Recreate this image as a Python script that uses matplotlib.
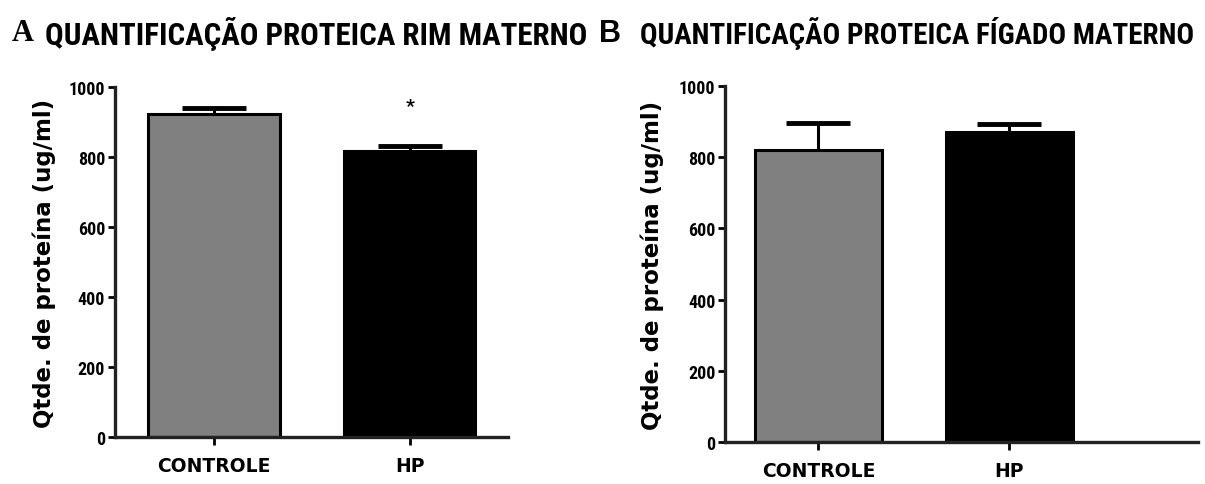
import matplotlib
matplotlib.use("Agg")
import matplotlib.pyplot as plt
import numpy as np

# data
groups = ["CONTROLE", "HP"]
rim_mean = [922, 816]
rim_sem = [18, 16]
figado_mean = [820, 871]
figado_sem = [76, 22]
yticks = [0, 200, 400, 600, 800, 1000]
colors = ["#808080", "#000000"]

narrow = ['Roboto Condensed', 'Arimo Narrow', 'Fira Sans Condensed', 'Liberation Sans', 'DejaVu Sans']
wide = ['DejaVu Sans']

plt.rcParams['font.family'] = narrow
plt.rcParams['font.weight'] = 'bold'

fig = plt.figure(figsize=(12.05, 4.85), dpi=100)
axA = fig.add_axes([0.0954, 0.097, 0.326, 0.7216])
axB = fig.add_axes([0.6017, 0.0866, 0.3925, 0.734])


def draw_panel(ax, means, sems, width, xlim, lab_x):
    x = np.arange(len(groups))
    ax.bar(x, means, width=width, color=colors, edgecolor="black", linewidth=2.2,
           zorder=2)
    # upward-only error bars, drawn behind the bars
    eb = ax.errorbar(x, means, yerr=[np.zeros(len(sems)), sems], fmt="none",
                     ecolor="black", elinewidth=2.2, capsize=23, capthick=3.5, zorder=1)
    eb[1][0].set_visible(False)
    ax.set_ylim(0, 1000)
    ax.set_xlim(*xlim)
    ax.set_yticks(yticks)
    ax.set_xticks(x)
    ax.set_xticklabels(groups, fontsize=13.5, fontweight="bold", family=wide)
    ax.tick_params(axis="y", labelsize=13, width=2, length=5, direction="out", pad=2)
    ax.tick_params(axis="x", width=2, length=6, direction="out", pad=8)
    for s in ["top", "right"]:
        ax.spines[s].set_visible(False)
    for s in ["left", "bottom"]:
        ax.spines[s].set_linewidth(2.4)
        ax.spines[s].set_color("#222222")
    ax.set_ylabel("Qtde. de proteína (ug/ml)", fontsize=16.5, fontweight="bold",
                  family=wide)
    ax.yaxis.set_label_coords(lab_x, 0.5)


draw_panel(axA, rim_mean, rim_sem, 0.67, (-0.505, 1.5), -0.15)
draw_panel(axB, figado_mean, figado_sem, 0.665, (-0.49, 1.99), -0.129)

# significance mark
axA.text(1, 945, "*", ha="center", va="center", fontsize=14, fontweight="bold")

# panel titles
fig.text(0.010, 0.93, "A", fontsize=22, fontweight="bold",
         family=['Liberation Serif', 'DejaVu Serif'], va="center")
fig.text(0.037, 0.93, "QUANTIFICAÇÃO PROTEICA RIM MATERNO", fontsize=22.3, fontweight="bold",
         va="center")
fig.text(0.497, 0.93, "B", fontsize=22, fontweight="bold",
         family=['Liberation Sans', 'DejaVu Sans'], va="center")
fig.text(0.531, 0.93, "QUANTIFICAÇÃO PROTEICA FÍGADO MATERNO", fontsize=21, fontweight="bold",
         va="center")

fig.savefig("out.png", dpi=100)
